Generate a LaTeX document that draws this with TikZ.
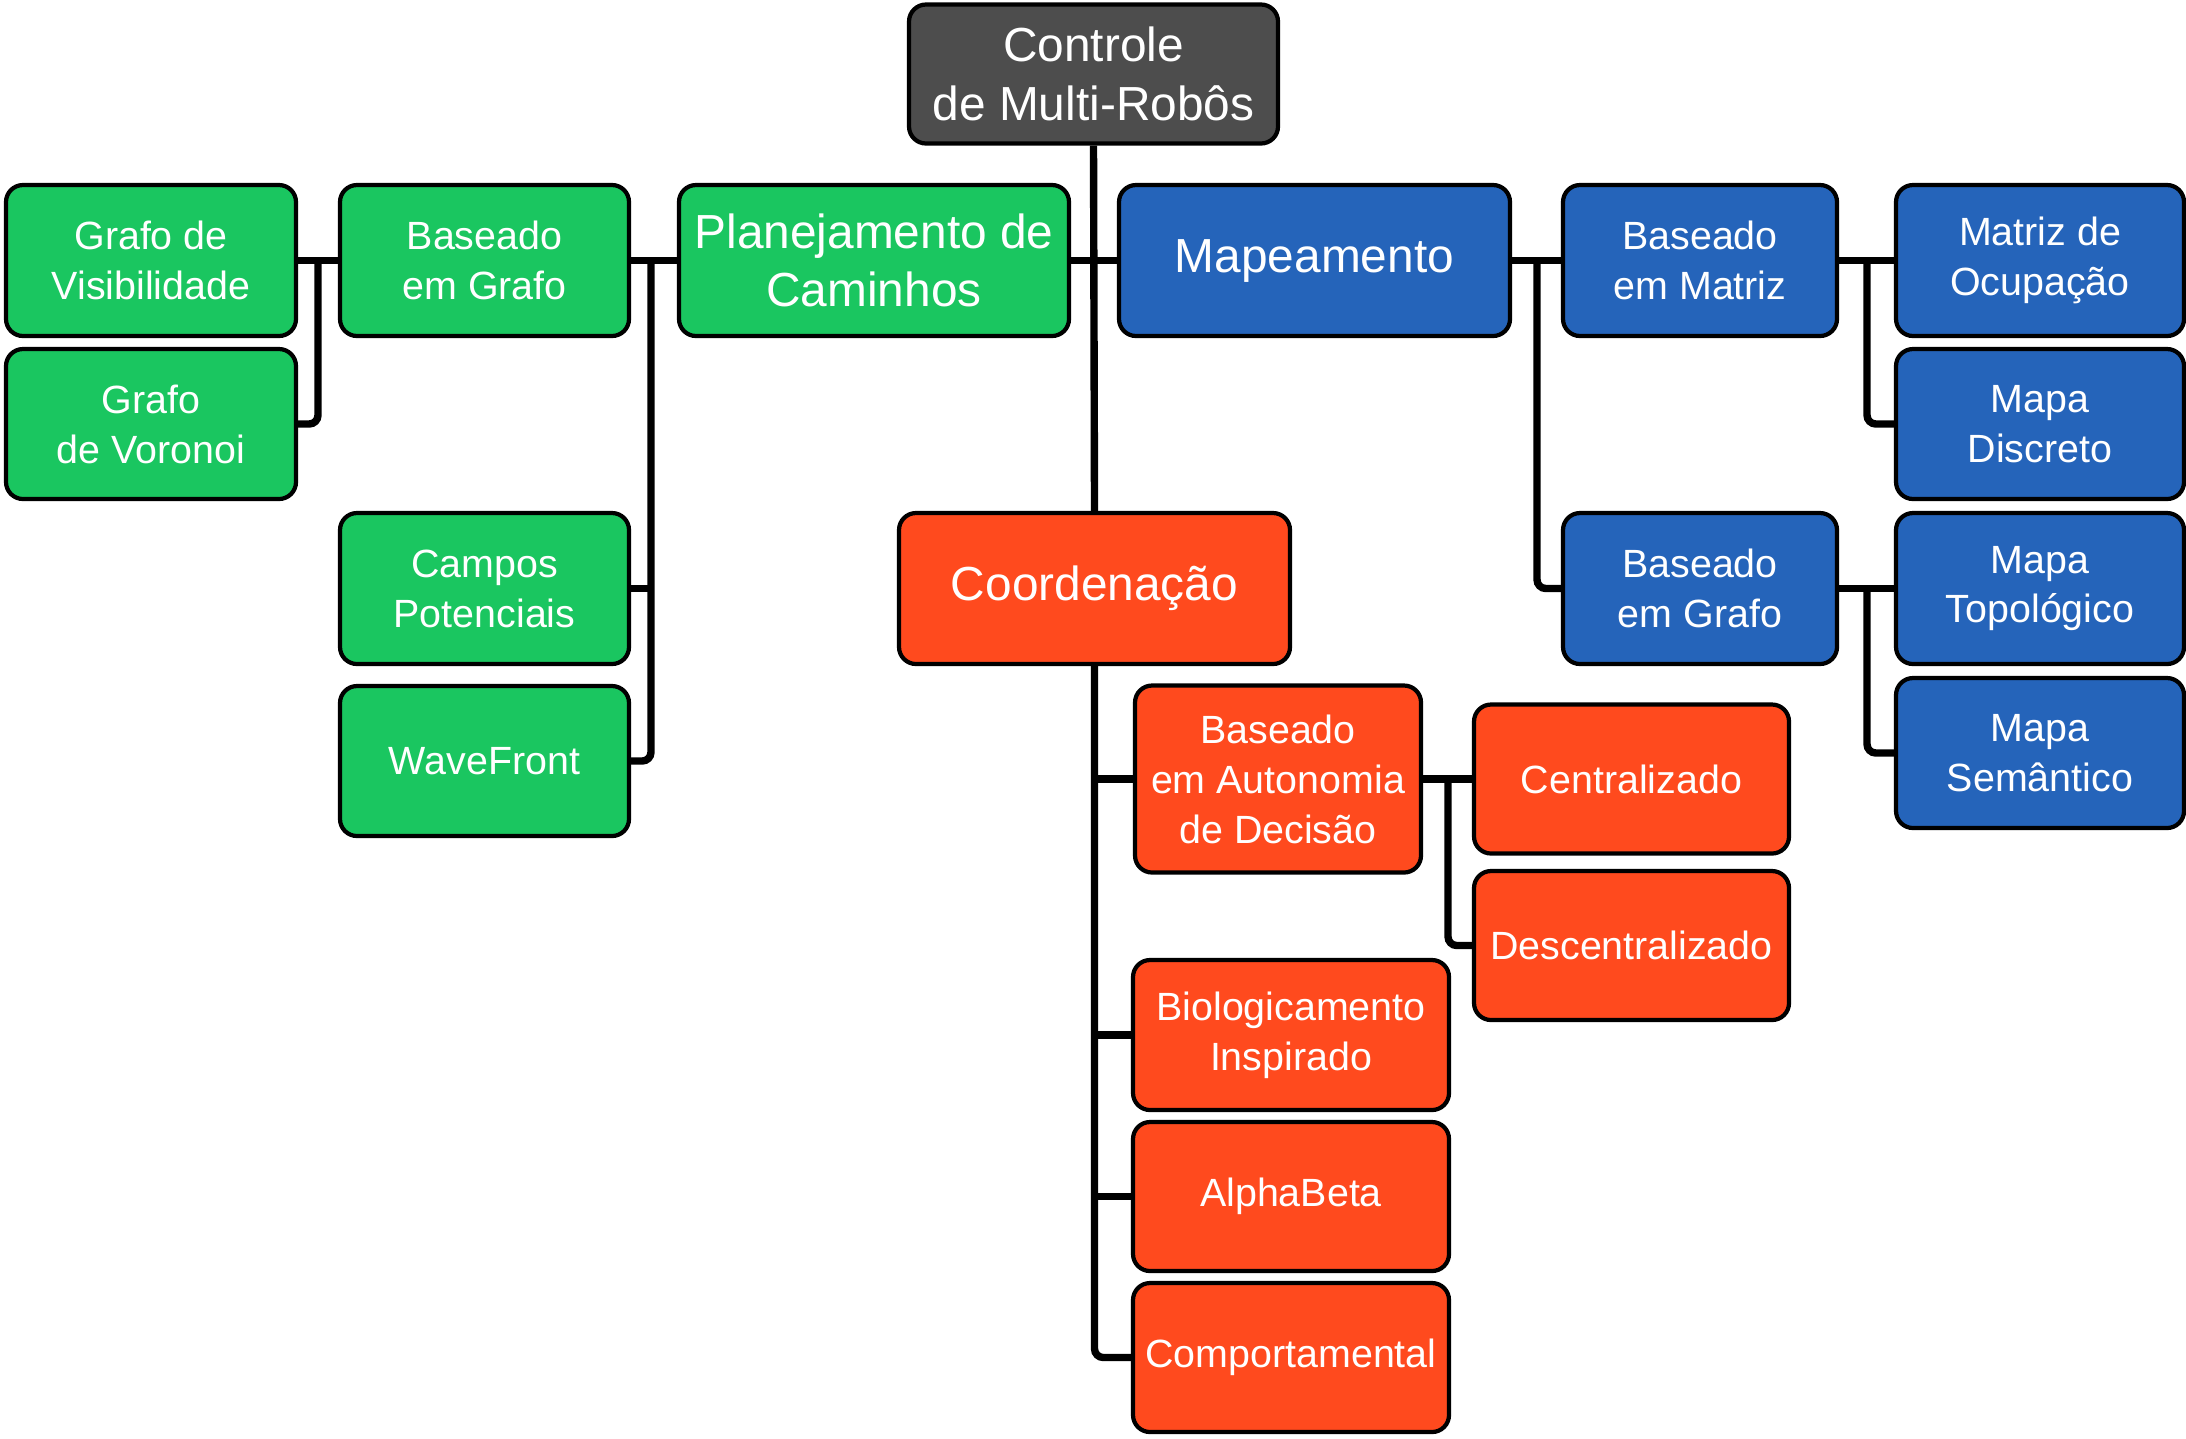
\documentclass[tikz,border=0pt]{standalone}
\usepackage{fontspec}
\setmainfont{Liberation Sans}
\definecolor{cgreen}{HTML}{1AC660}
\definecolor{cblue}{HTML}{2564BA}
\definecolor{cred}{HTML}{FF4A1E}
\definecolor{cgray}{HTML}{4D4D4D}
\tikzset{
  box/.style={draw=black, line width=1.2pt, rounded corners=0.17cm, align=center,
    text=white, inner sep=0pt, font=\fontsize{11.2}{14.2}\selectfont},
  big/.style={font=\fontsize{13.6}{16.6}\selectfont},
  gbox/.style={box, fill=cgreen},
  bbox/.style={box, fill=cblue},
  rbox/.style={box, fill=cred},
  sz/.style 2 args={minimum width=#1*0.01cm, minimum height=#2*0.01cm},
  conn/.style={line width=2.1pt, rounded corners=2.5pt}
}
\begin{document}
\begin{tikzpicture}[x=0.01cm, y=-0.01cm]
\useasboundingbox (0,0) rectangle (2186,1438);
% root
\node[box, fill=cgray, big, sz={369}{139}] (ctrl) at (1093.5,74) {Controle\\de Multi-Robôs};
% level 1
\node[gbox, big, sz={390}{151}] (plan) at (874,260.5) {Planejamento de\\Caminhos};
\node[bbox, big, sz={391}{151}] (mapa) at (1314.5,260.5) {Mapeamento};
\node[rbox, big, sz={391}{151}] (coord) at (1094.5,588.5) {Coordenação};
% green branch
\node[gbox, sz={289}{151}] (bgr) at (484.5,260.5) {Baseado\\em Grafo};
\node[gbox, sz={289}{151}] (camp) at (484.5,588.5) {Campos\\Potenciais};
\node[gbox, sz={289}{150}] (wave) at (484.5,761) {WaveFront};
\node[gbox, sz={290}{151}] (gvis) at (151,260.5) {Grafo de\\Visibilidade};
\node[gbox, sz={290}{150}] (gvor) at (151,424) {Grafo\\de Voronoi};
% blue branch
\node[bbox, sz={274}{151}] (bmat) at (1700,260.5) {Baseado\\em Matriz};
\node[bbox, sz={274}{151}] (bgb) at (1700,588.5) {Baseado\\em Grafo};
\node[bbox, sz={288}{151}] (mocu) at (2040,260.5) {Matriz de\\Ocupação};
\node[bbox, sz={288}{150}] (mdisc) at (2040,424) {Mapa\\Discreto};
\node[bbox, sz={288}{151}] (mtop) at (2040,588.5) {Mapa\\Topológico};
\node[bbox, sz={288}{150}] (msem) at (2040,753) {Mapa\\Semântico};
% red branch
\node[rbox, sz={286}{187}] (baut) at (1278,779) {Baseado\\em Autonomia\\de Decisão};
\node[rbox, sz={315}{149}] (cent) at (1631.5,779) {Centralizado};
\node[rbox, sz={315}{149}] (desc) at (1631.5,945.5) {Descentralizado};
\node[rbox, sz={316}{150}] (bio) at (1291,1035) {Biologicamento\\Inspirado};
\node[rbox, sz={316}{149}] (alpha) at (1291,1196.5) {AlphaBeta};
\node[rbox, sz={316}{149}] (comp) at (1291,1357.5) {Comportamental};
% connectors
\draw[conn] (ctrl.south) -- (coord.north);
\draw[conn] (plan.east) -- (mapa.west);
% green
\draw[conn] (bgr.east) -- (plan.west);
\coordinate (gj) at (651,260.5);
\draw[conn] (gj) |- (wave.east);
\draw[conn] (gj |- camp.east) -- (camp.east);
\draw[conn] (gvis.east) -- (bgr.west);
\coordinate (vj) at (318,260.5);
\draw[conn] (vj) |- (gvor.east);
% blue
\draw[conn] (mapa.east) -- (bmat.west);
\coordinate (mj) at (1537,260.5);
\draw[conn] (mj) |- (bgb.west);
\draw[conn] (bmat.east) -- (mocu.west);
\coordinate (mj2) at (1867,260.5);
\draw[conn] (mj2) |- (mdisc.west);
\draw[conn] (bgb.east) -- (mtop.west);
\coordinate (mj3) at (1867,588.5);
\draw[conn] (mj3) |- (msem.west);
% red
\draw[conn] (coord.south) |- (comp.west);
\draw[conn] (coord.south |- baut.west) -- (baut.west);
\draw[conn] (coord.south |- bio.west) -- (bio.west);
\draw[conn] (coord.south |- alpha.west) -- (alpha.west);
\draw[conn] (baut.east) -- (cent.west);
\coordinate (rj) at (1448,779);
\draw[conn] (rj) |- (desc.west);
\end{tikzpicture}
\end{document}
